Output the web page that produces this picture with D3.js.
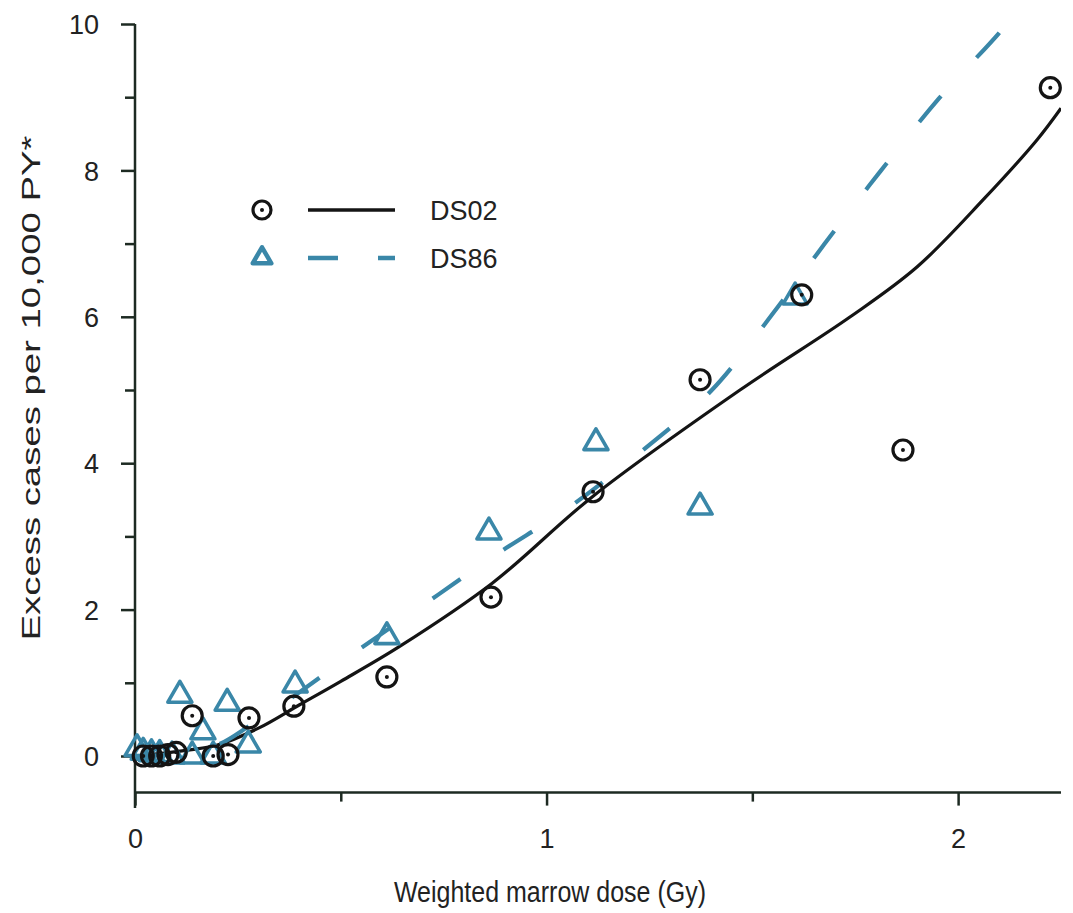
<!DOCTYPE html>
<html>
<head>
<meta charset="utf-8">
<script src="https://cdn.jsdelivr.net/npm/d3@7"></script>
<style>
  html, body { margin: 0; padding: 0; background: #fff; }
  svg { display: block; font-family: "Liberation Sans", Arial, Helvetica, sans-serif; }
</style>
</head>
<body>
<svg id="chart" width="1073" height="913"></svg>
<script>
// observed points, DS02 dosimetry (circles)
var ds02Points = [
  [0.02, 0.0], [0.04, 0.0], [0.06, 0.0], [0.08, 0.02], [0.10, 0.05],
  [0.139, 0.55], [0.19, 0.0], [0.226, 0.02], [0.277, 0.52], [0.386, 0.68],
  [0.612, 1.08], [0.865, 2.17], [1.113, 3.61], [1.373, 5.14], [1.62, 6.3],
  [1.866, 4.18], [2.224, 9.13]
];
// observed points, DS86 dosimetry (triangles)
var ds86Points = [
  [0.005, 0.1], [0.02, 0.05], [0.04, 0.03], [0.06, 0.02], [0.09, 0.0],
  [0.109, 0.83], [0.139, 0.0], [0.165, 0.33], [0.19, 0.0], [0.224, 0.72],
  [0.275, 0.15], [0.389, 0.97], [0.612, 1.63], [0.86, 3.06], [1.12, 4.28],
  [1.373, 3.40], [1.604, 6.27]
];
// fitted curves
var ds02Fit = [
  [0, 0], [0.1, 0.06], [0.2, 0.15], [0.3, 0.38], [0.4, 0.7], [0.5, 1.02],
  [0.644, 1.5], [0.868, 2.36], [1.113, 3.55], [1.47, 5.0],
  [1.738, 6.0], [1.9, 6.68], [2.061, 7.6], [2.192, 8.42], [2.25, 8.85]
];
var ds86Fit = [
  [0, 0], [0.1, 0.03], [0.2, 0.15], [0.28, 0.42], [0.349, 0.67], [0.52, 1.36],
  [0.70, 2.06], [0.877, 2.75], [1.048, 3.37], [1.228, 4.15], [1.40, 4.99],
  [1.56, 6.12], [1.676, 7.0], [1.81, 7.98], [1.953, 8.98], [2.10, 9.88], [2.16, 10.3]
];
var xMajor = [0, 1, 2];
var xMinor = [0.5, 1.5];
var yMajor = [0, 2, 4, 6, 8, 10];
var yMinor = [1, 3, 5, 7, 9];
var seriesNames = ["DS02", "DS86"];

var blue = "#3a87a8", ink = "#141414", axisInk = "#1d2a22";

var svg = d3.select("#chart");
var x = d3.scaleLinear().domain([0, 2.25]).range([135, 1061]);
var y = d3.scaleLinear().domain([-0.5, 10]).range([792.6, 24]);

svg.append("defs").append("clipPath").attr("id", "plotclip")
  .append("rect").attr("x", x(0)).attr("y", y(10)).attr("width", x(2.25) - x(0)).attr("height", y(-0.5) - y(10));

// x axis
var gx = svg.append("g").attr("transform", "translate(0," + y(-0.5) + ")");
gx.call(d3.axisBottom(x).tickValues(xMajor).tickSize(13).tickFormat(d3.format("d")));
gx.append("g").call(d3.axisBottom(x).tickValues(xMinor).tickSize(9).tickFormat(""));
gx.selectAll(".domain").remove();
gx.append("line").attr("x1", x(0)).attr("x2", x(2.25)).attr("stroke", axisInk).attr("stroke-width", 2.5);
gx.selectAll(".tick line").attr("stroke", axisInk).attr("stroke-width", 2.5);
gx.selectAll(".tick text").attr("font-size", 27).attr("fill", "#222").attr("dy", "0").attr("y", 55)
  .attr("font-family", "Liberation Sans, Arial, sans-serif");

// y axis
var gy = svg.append("g").attr("transform", "translate(" + x(0) + ",0)");
gy.call(d3.axisLeft(y).tickValues(yMajor).tickSize(14).tickFormat(d3.format("d")));
gy.append("g").call(d3.axisLeft(y).tickValues(yMinor).tickSize(10).tickFormat(""));
gy.selectAll(".domain").remove();
gy.append("line").attr("y1", y(10)).attr("y2", 808).attr("stroke", axisInk).attr("stroke-width", 2.5);
gy.selectAll(".tick line").attr("stroke", axisInk).attr("stroke-width", 2.5);
gy.selectAll(".tick text").attr("font-size", 27).attr("fill", "#222").attr("x", -36).attr("dy", "0.36em")
  .attr("font-family", "Liberation Sans, Arial, sans-serif");

// axis titles (source glyphs look vertically stretched)
svg.append("text").attr("transform", "translate(550,902) scale(1,1.2)").attr("text-anchor", "middle")
  .attr("font-size", 25).attr("fill", "#222").text("Weighted marrow dose (Gy)");
svg.append("text").attr("transform", "translate(40,388) rotate(-90)").attr("text-anchor", "middle")
  .attr("font-size", 26).attr("fill", "#222")
  .attr("textLength", 505).attr("lengthAdjust", "spacingAndGlyphs")
  .text("Excess cases per 10,000 PY*");

// fitted curves
var line = d3.line().x(function(d) { return x(d[0]); }).y(function(d) { return y(d[1]); })
  .curve(d3.curveCatmullRom.alpha(0.5));
var plot = svg.append("g").attr("clip-path", "url(#plotclip)");
plot.append("path").datum(ds02Fit).attr("d", line).attr("fill", "none")
  .attr("stroke", ink).attr("stroke-width", 3.2);
plot.append("path").datum(ds86Fit).attr("d", line).attr("fill", "none")
  .attr("stroke", blue).attr("stroke-width", 4.2).attr("stroke-dasharray", "34,52");

// markers
var tri = d3.symbol().type(d3.symbolTriangle).size(250);
svg.append("g").selectAll("path").data(ds86Points).enter().append("path")
  .attr("d", tri)
  .attr("transform", function(d) { return "translate(" + x(d[0]) + "," + y(d[1]) + ")"; })
  .attr("fill", "none").attr("stroke", blue).attr("stroke-width", 3.6).attr("stroke-linejoin", "round");

var circ = svg.append("g").selectAll("g").data(ds02Points).enter().append("g")
  .attr("transform", function(d) { return "translate(" + x(d[0]) + "," + y(d[1]) + ")"; });
circ.append("circle").attr("r", 10).attr("fill", "none").attr("stroke", ink).attr("stroke-width", 3.2);
circ.append("circle").attr("r", 2).attr("fill", ink);

// legend
var legend = svg.append("g");
var l1 = legend.append("g").attr("transform", "translate(0,210)");
l1.append("circle").attr("cx", 262).attr("r", 9).attr("fill", "none").attr("stroke", ink).attr("stroke-width", 3.2);
l1.append("circle").attr("cx", 262).attr("r", 2).attr("fill", ink);
l1.append("line").attr("x1", 308).attr("x2", 395).attr("stroke", ink).attr("stroke-width", 3.5);
l1.append("text").attr("x", 430).attr("dy", "0.36em").attr("font-size", 27).attr("fill", "#222").text(seriesNames[0]);

var l2 = legend.append("g").attr("transform", "translate(0,258)");
l2.append("path").attr("d", d3.symbol().type(d3.symbolTriangle).size(150)).attr("transform", "translate(262,0)")
  .attr("fill", "none").attr("stroke", blue).attr("stroke-width", 4.5).attr("stroke-linejoin", "round");
l2.append("line").attr("x1", 308).attr("x2", 395).attr("stroke", blue).attr("stroke-width", 4.5)
  .attr("stroke-dasharray", "30,40");
l2.append("text").attr("x", 430).attr("dy", "0.36em").attr("font-size", 27).attr("fill", "#222").text(seriesNames[1]);
</script>
</body>
</html>
